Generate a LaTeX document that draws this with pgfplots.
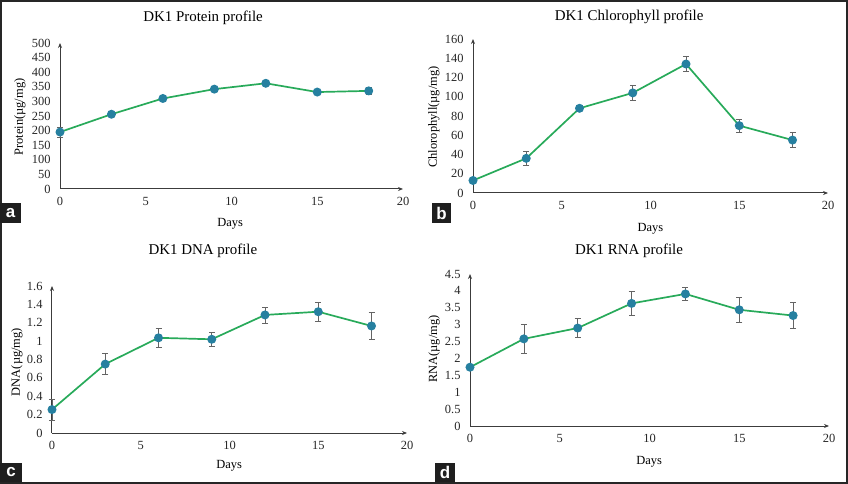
\documentclass[border=0pt]{standalone}
\usepackage{fontspec}
\setmainfont{Liberation Serif}
\newfontfamily\labfont{Liberation Sans}
\usepackage{pgfplots}
\pgfplotsset{compat=1.18}
\usetikzlibrary{arrows.meta}

\definecolor{linegreen}{RGB}{40,170,90}
\definecolor{dotblue}{RGB}{38,128,160}
\definecolor{axisgray}{RGB}{60,60,60}
\definecolor{errgray}{RGB}{100,100,100}

\pgfplotsset{
  profile/.style={
    scale only axis,
    anchor=south west,
    xmin=0, xmax=20, ymin=0,
    xtick={0,5,10,15,20},
    axis lines=left,
    axis line style={axisgray, line width=1bp, -{Stealth[length=5bp,width=4bp]}},
    major tick length=0pt,
    tick label style={font=\fontsize{12.5}{13}\selectfont, text=black!85},
    yticklabel style={xshift=-6bp},
    xticklabel style={yshift=-5bp},
    /pgf/number format/assume math mode=true,
    every axis title shift=0pt,
    title style={font=\fontsize{15}{17}\selectfont, anchor=center},
    label style={font=\fontsize{12.5}{14}\selectfont, anchor=center},
    xlabel style={yshift=-1.5bp},
    xlabel=Days,
    clip=false,
  },
  prof/.style={
    color=linegreen, line width=1.7bp,
    mark=*, mark size=3.6bp,
    mark options={fill=dotblue, draw=dotblue},
    error bars/.cd, y dir=both, y explicit,
    error bar style={errgray, line width=0.7bp},
    error mark options={errgray, rotate=90, mark size=3bp, line width=0.7bp},
  },
}

\begin{document}
\begin{tikzpicture}
\useasboundingbox (0bp,0bp) rectangle (848bp,484bp);
\draw[black!85, line width=1.6bp] (0.8bp,0.8bp) rectangle (847.2bp,483.2bp);

% a: protein
\begin{axis}[profile, at={(60bp,295bp)}, width=343bp, height=146bp,
  ymax=500, ytick={0,50,...,500},
  title={DK1 Protein profile},
  title style={at={(axis description cs:0.417,1.173)}},
  xlabel style={at={(axis description cs:0.496,-0.226)}},
  ylabel={Protein(µg/mg)},
  ylabel style={at={(axis description cs:-0.117,0.493)}}]
\addplot[prof] coordinates {
  (0,195) +- (0,17)
  (3,256) +- (0,6)
  (6,310) +- (0,10)
  (9,342) +- (0,8)
  (12,362) +- (0,6)
  (15,332) +- (0,6)
  (18,336) +- (0,11)
};
\end{axis}

% b: chlorophyll
\begin{axis}[profile, at={(473bp,291bp)}, width=355bp, height=154bp,
  ymax=160, ytick={0,20,...,160},
  title={DK1 Chlorophyll profile},
  title style={at={(axis description cs:0.44,1.143)}},
  xlabel style={at={(axis description cs:0.50,-0.221)}},
  ylabel={Chlorophyll(µg/mg)},
  ylabel style={at={(axis description cs:-0.11,0.494)}}]
\addplot[prof] coordinates {
  (0,13) +- (0,2)
  (3,36) +- (0,7)
  (6,88) +- (0,2.5)
  (9,104) +- (0,7.5)
  (12,134) +- (0,8)
  (15,70) +- (0,7)
  (18,55) +- (0,8)
};
\end{axis}

% c: DNA
\begin{axis}[profile, at={(52bp,51bp)}, width=355bp, height=147bp,
  ymax=1.6, ytick={0,0.2,0.4,0.6,0.8,1,1.2,1.4,1.6},
  title={DK1 DNA profile},
  title style={at={(axis description cs:0.425,1.238)}},
  xlabel style={at={(axis description cs:0.499,-0.211)}},
  ylabel={DNA(µg/mg)},
  ylabel style={at={(axis description cs:-0.099,0.483)}}]
\addplot[prof] coordinates {
  (0,0.255) +- (0,0.115)
  (3,0.75) +- (0,0.115)
  (6,1.036) +- (0,0.1)
  (9,1.02) +- (0,0.075)
  (12,1.285) +- (0,0.087)
  (15,1.32) +- (0,0.105)
  (18,1.165) +- (0,0.147)
};
\end{axis}

% d: RNA
\begin{axis}[profile, at={(470bp,58bp)}, width=359bp, height=152bp,
  ymax=4.5, ytick={0,0.5,1,1.5,2,2.5,3,3.5,4,4.5},
  title={DK1 RNA profile},
  title style={at={(axis description cs:0.443,1.151)}},
  xlabel style={at={(axis description cs:0.499,-0.224)}},
  ylabel={RNA(µg/mg)},
  ylabel style={at={(axis description cs:-0.10,0.507)}}]
\addplot[prof] coordinates {
  (0,1.74) +- (0,0.04)
  (3,2.58) +- (0,0.42)
  (6,2.9) +- (0,0.29)
  (9,3.63) +- (0,0.36)
  (12,3.91) +- (0,0.19)
  (15,3.44) +- (0,0.37)
  (18,3.27) +- (0,0.38)
};
\end{axis}

% panel letters
\foreach \xa/\xb/\ya/\yb/\t in {0/21/261/281/a, 432/451/261/281/b, 0/22/2/21/c, 435/455/2/21/d}{
  \fill[black!88] (\xa bp,\ya bp) rectangle (\xb bp,\yb bp);
  \node[text=white, inner sep=0pt, font=\labfont\bfseries\fontsize{17}{17}\selectfont]
    at ({(\xa+\xb)/2*1bp},{(\ya+\yb)/2*1bp}) {\t};
}
\end{tikzpicture}
\end{document}
